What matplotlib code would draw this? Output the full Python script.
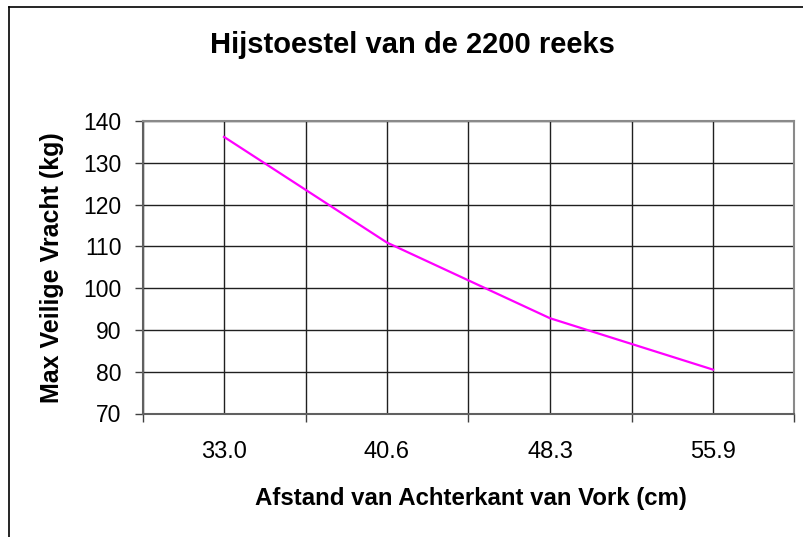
import matplotlib
matplotlib.use("Agg")
import matplotlib.pyplot as plt
from matplotlib.lines import Line2D
from matplotlib.ticker import FixedLocator

categories = ["33.0", "40.6", "48.3", "55.9"]
load_kg = [136.2, 110.9, 92.8, 80.5]
y_ticks = [70, 80, 90, 100, 110, 120, 130, 140]

plt.rcParams['font.family'] = ['Liberation Sans', 'DejaVu Sans']

W, H = 804, 537
fig = plt.figure(figsize=(W / 100, H / 100), dpi=100)
fig.patch.set_facecolor('white')

left, right, top, bottom = 142.5, 794.5, 121.0, 413.5
ax = fig.add_axes([left / W, 1 - bottom / H, (right - left) / W, (bottom - top) / H])

x = list(range(len(categories)))
ax.plot(x, load_kg, color='#FF00FF', linewidth=1.6, zorder=3)

ax.set_xlim(-0.5, len(categories) - 0.5)
ax.set_ylim(min(y_ticks), max(y_ticks))
ax.set_yticks(y_ticks)
ax.set_yticklabels([str(v) for v in y_ticks], fontsize=16.5)
ax.set_xticks(x)
ax.set_xticklabels(categories, fontsize=17)
ax.xaxis.set_minor_locator(FixedLocator([i - 0.5 for i in range(len(categories) + 1)]))

ax.tick_params(axis='x', which='major', length=0, pad=20)
ax.tick_params(axis='x', which='minor', length=6, width=1, color='#404040', direction='out')
ax.tick_params(axis='y', which='major', length=6, width=1, color='#404040', direction='out', pad=9)

ax.grid(True, which='major', axis='both', color='#202020', linewidth=1)
ax.grid(True, which='minor', axis='x', color='#202020', linewidth=1)
ax.set_axisbelow(True)

ax.spines['top'].set_color('#8a8a8a')
ax.spines['right'].set_color('#8a8a8a')
ax.spines['top'].set_linewidth(1.5)
ax.spines['right'].set_linewidth(1.5)
ax.spines['left'].set_color('#606060')
ax.spines['bottom'].set_color('#606060')
ax.spines['left'].set_linewidth(1.5)
ax.spines['bottom'].set_linewidth(1.5)

fig.text(412 / W, 1 - 53 / H, "Hijstoestel van de 2200 reeks", ha='center', va='baseline',
         fontsize=21, fontweight='bold')
fig.text(471 / W, 1 - 505 / H, "Afstand van Achterkant van Vork (cm)", ha='center', va='baseline',
         fontsize=17.3, fontweight='bold')
fig.text(52.5 / W, 1 - 268 / H, "Max Veilige Vracht (kg)", ha='center', va='center',
         rotation=90, fontsize=18, fontweight='bold')

# outer chart-area border (cut off at right and bottom)
fig.add_artist(Line2D([9 / W, 9 / W], [1 - 7 / H, 0], transform=fig.transFigure,
                      color='black', linewidth=1.2))
fig.add_artist(Line2D([9 / W, 1], [1 - 7 / H, 1 - 7 / H], transform=fig.transFigure,
                      color='black', linewidth=1.2))

fig.savefig("out.png", dpi=100)
